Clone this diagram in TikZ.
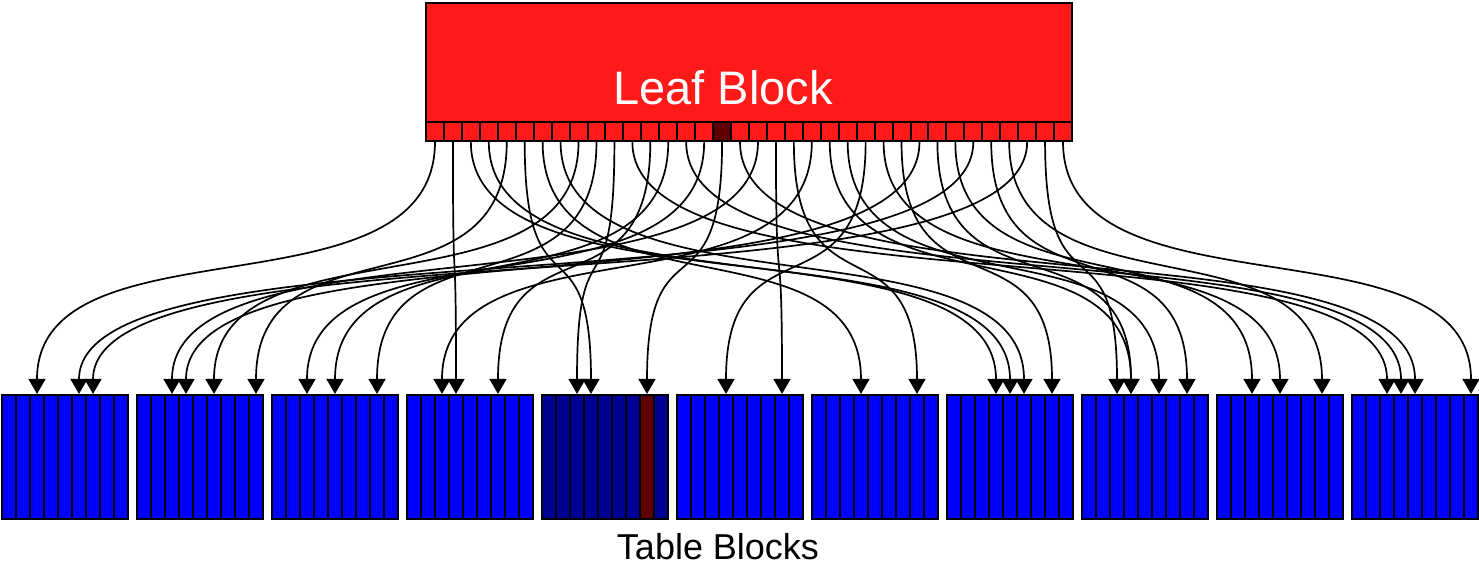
\documentclass[tikz,border=0pt]{standalone}
\usepackage{fontspec}
\setmainfont{Liberation Sans}
\usetikzlibrary{arrows.meta}
\definecolor{leafred}{RGB}{255,26,26}
\definecolor{darkred}{RGB}{92,0,0}
\definecolor{tblue}{RGB}{0,0,255}
\definecolor{dblue}{RGB}{0,0,150}
\begin{document}
\begin{tikzpicture}[x=1pt,y=-1pt,
  leafbox/.style={draw=black,line width=2pt,fill=leafred,minimum width=646pt,minimum height=119pt,inner sep=0pt},
  leafcell/.style={draw=black,line width=2pt,fill=leafred,minimum width=17.944pt,minimum height=19pt,inner sep=0pt},
  tcell/.style={draw=black,line width=2.2pt,fill=tblue,minimum width=14pt,minimum height=124pt,inner sep=0pt},
  tblock/.style={draw=black,line width=2.4pt,minimum width=126pt,minimum height=124pt,inner sep=0pt},
  edge/.style={line width=1.7pt,-{Triangle[width=17pt,length=15pt]}}]
\useasboundingbox (0,0) rectangle (1479,566);
\node[leafbox] (leaf) at (749,62.5) {};
\node[anchor=base,text=white,font=\fontsize{47}{50}\selectfont] (leaflabel) at (723,104) {Leaf Block};
\foreach \i in {0,...,35}{
  \ifnum\i=16 \def\lc{darkred}\else\def\lc{leafred}\fi
  \node[leafcell,fill=\lc] (l\i) at ({426+17.944*(\i+0.5)},131.5) {};
}
\foreach \b in {0,...,10}{
  \foreach \c in {0,...,8}{
    \ifnum\b=4 \def\tc{dblue}\ifnum\c=7 \def\tc{darkred}\fi\else\def\tc{tblue}\fi
    \node[tcell,fill=\tc] (t\b-\c) at ({2+135*\b+7+14*\c},457) {};
  }
  \node[tblock] (tb\b) at ({2+135*\b+63},457) {};
}
\node[anchor=base,font=\fontsize{36}{40}\selectfont] (tablelabel) at (718,559) {Table Blocks};
\foreach \s/\b/\c in {0/0/2,1/3/3,2/7/4,3/7/3,4/1/8,5/4/3,6/6/3,7/7/5,8/1/5,9/2/7,
  10/4/2,11/10/2,12/3/6,13/2/4,14/10/3,15/2/2,16/4/7,17/10/4,18/1/2,19/5/7,
  20/6/7,21/3/2,22/8/3,23/8/5,24/5/3,25/9/4,26/7/7,27/1/3,28/8/3,29/9/2,
  30/0/5,31/8/7,32/9/7,33/0/6,34/8/2,35/10/8}{
  \draw[edge] (l\s.south) .. controls +(0,180) and +(0,-180) .. (t\b-\c.north);
}
\end{tikzpicture}
\end{document}
